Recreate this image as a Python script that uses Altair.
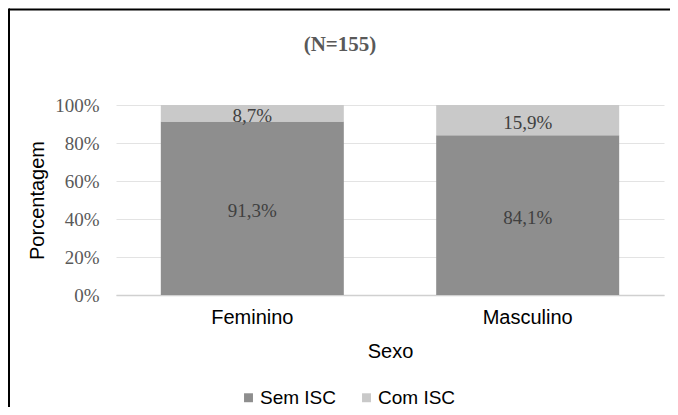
import altair as alt
import pandas as pd

sexo = ["Feminino", "Feminino", "Masculino", "Masculino"]
grupo = ["Sem ISC", "Com ISC", "Sem ISC", "Com ISC"]
valor = [91.3, 8.7, 84.1, 15.9]
ordem = [0, 1, 0, 1]
titulo = "(N=155)"
y_ticks = [0, 0.2, 0.4, 0.6, 0.8, 1.0]

df = pd.DataFrame({"sexo": sexo, "grupo": grupo, "valor": valor, "ordem": ordem})
df["frac"] = df["valor"] / 100.0

serif = "Liberation Serif"
sans = "Liberation Sans"

color = alt.Color(
    "grupo:N",
    scale=alt.Scale(domain=["Sem ISC", "Com ISC"], range=["#8e8e8e", "#c9c9c9"]),
    legend=alt.Legend(
        title=None, orient="none", direction="horizontal",
        legendX=123, legendY=283,
        symbolType="square", symbolSize=80, symbolStrokeWidth=0,
        labelFont=sans, labelFontSize=19, labelColor="#000000",
        labelOffset=2, columnPadding=20,
    ),
)

xaxis = alt.Axis(labelAngle=0, labelFont=sans, labelFontSize=20, labelColor="#000000",
                 labelPadding=12, ticks=False, domainColor="#d0d0d0", domainWidth=1.5,
                 titleFont=sans, titleFontSize=20, titleFontWeight="normal",
                 titleColor="#000000", titlePadding=14, grid=False)
xscale = alt.Scale(paddingInner=0.33, paddingOuter=0.16)

yaxis = alt.Axis(format=".0%", values=y_ticks, labelOverlap=False,
                 labelFont=serif, labelFontSize=19, labelColor="#595959",
                 labelPadding=17, ticks=False, domain=False,
                 gridColor="#e3e3e3", gridWidth=1,
                 titleFont=sans, titleFontSize=20, titleFontWeight="normal",
                 titleColor="#000000", titlePadding=7)

bars = alt.Chart(df).mark_bar(size=183).encode(
    x=alt.X("sexo:N", title="Sexo", scale=xscale, axis=xaxis),
    y=alt.Y("frac:Q", stack="zero", title="Porcentagem",
            scale=alt.Scale(domain=[0, 1]), axis=yaxis),
    color=color,
    order=alt.Order("ordem:Q", sort="ascending"),
)

labels = alt.Chart(df).transform_stack(
    stack="frac", groupby=["sexo"], as_=["y0", "y1"], sort=[alt.SortField("ordem")]
).transform_calculate(
    mid="(datum.y0 + datum.y1) / 2",
    rotulo="replace(format(datum.valor, '.1f'), '.', ',') + '%'",
).mark_text(font=serif, fontSize=19, color="#404040", baseline="middle", dy=3).encode(
    x=alt.X("sexo:N", title="Sexo", scale=xscale, axis=xaxis),
    y=alt.Y("mid:Q", title="Porcentagem", scale=alt.Scale(domain=[0, 1]), axis=yaxis),
    text="rotulo:N",
)

title = alt.Chart(pd.DataFrame({"t": [titulo]})).mark_text(
    font=serif, fontSize=21, fontWeight="bold", color="#595959", baseline="middle"
).encode(x=alt.value(224), y=alt.value(-60), text="t:N")

top_line = alt.Chart(pd.DataFrame({"a": [0]})).mark_rule(
    color="#000000", strokeWidth=2
).encode(x=alt.value(-107), x2=alt.value(554), y=alt.value(-95.5))

left_line = alt.Chart(pd.DataFrame({"a": [0]})).mark_rule(
    color="#000000", strokeWidth=2
).encode(x=alt.value(-107), y=alt.value(-96.5), y2=alt.value(302))

chart = alt.layer(bars, labels, title, top_line, left_line).properties(
    width=548, height=190,
    background="white",
    autosize=alt.AutoSizeParams(type="none"),
    padding={"left": 108, "top": 97, "right": 6, "bottom": 112},
).configure_view(stroke=None).configure_axis(labelOverlap=False)

chart.save("out.html", embed_options={"renderer": "svg", "actions": False})
